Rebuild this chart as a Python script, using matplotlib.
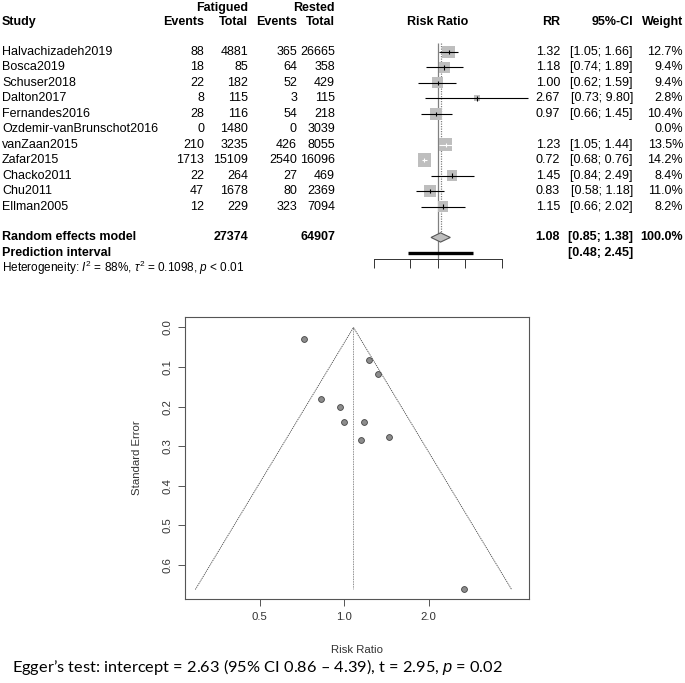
import numpy as np
import matplotlib
matplotlib.use("Agg")
import matplotlib.pyplot as plt
from matplotlib.patches import Polygon
from matplotlib import transforms

plt.rcParams['font.family'] = ['Liberation Sans', 'DejaVu Sans']
plt.rcParams['mathtext.fontset'] = 'custom'
plt.rcParams['mathtext.rm'] = 'Liberation Sans'
plt.rcParams['mathtext.it'] = 'Liberation Sans:italic'

# ---- data ----
studies = ['Halvachizadeh2019', 'Bosca2019', 'Schuser2018', 'Dalton2017',
           'Fernandes2016', 'Ozdemir-vanBrunschot2016', 'vanZaan2015',
           'Zafar2015', 'Chacko2011', 'Chu2011', 'Ellman2005']
fat_events = [88, 18, 22, 8, 28, 0, 210, 1713, 22, 47, 12]
fat_total = [4881, 85, 182, 115, 116, 1480, 3235, 15109, 264, 1678, 229]
rest_events = [365, 64, 52, 3, 54, 0, 426, 2540, 27, 80, 323]
rest_total = [26665, 358, 429, 115, 218, 3039, 8055, 16096, 469, 2369, 7094]
rr = [1.32, 1.18, 1.00, 2.67, 0.97, np.nan, 1.23, 0.72, 1.45, 0.83, 1.15]
ci_lo = [1.05, 0.74, 0.62, 0.73, 0.66, np.nan, 1.05, 0.68, 0.84, 0.58, 0.66]
ci_hi = [1.66, 1.89, 1.59, 9.80, 1.45, np.nan, 1.44, 0.76, 2.49, 1.18, 2.02]
weight = [12.7, 9.4, 9.4, 2.8, 10.4, 0.0, 13.5, 14.2, 8.4, 11.0, 8.2]
# standard errors
se = [0.117, 0.239, 0.240, 0.662, 0.201, np.nan, 0.081, 0.028, 0.277, 0.181, 0.285]

re_est, re_lo, re_hi = 1.08, 0.85, 1.38
pi_lo, pi_hi = 0.48, 2.45
fat_sum, rest_sum = 27374, 64907
forest_ticks = [0.2, 0.5, 1, 2, 5]
funnel_center = 1.08

W, H = 685, 683
fig = plt.figure(figsize=(W / 100, H / 100), dpi=100)
fig.patch.set_facecolor('white')

def fx(p):
    return p / W

# ---- forest plot ----
ax = fig.add_axes([fx(373.5), (H - 275) / H, 128 / W, 275 / H])
ax.set_xscale('log')
ax.set_xlim(0.2, 5)
ax.set_ylim(14.43, -3.366)
ax.patch.set_alpha(0)
for s in ['top', 'left', 'right']:
    ax.spines[s].set_visible(False)
ax.spines['bottom'].set_position(('data', 13.4))
ax.spines['bottom'].set_bounds(0.2, 5)
ax.spines['bottom'].set_linewidth(0.7)
ax.spines['bottom'].set_color('#333333')
ax.set_xticks(forest_ticks)
ax.set_xticklabels([''] * len(forest_ticks))
ax.xaxis.set_minor_locator(matplotlib.ticker.NullLocator())
ax.tick_params(axis='x', direction='out', length=6.5, width=0.7, color='#333333')
ax.set_yticks([])

rows = np.arange(len(studies))
ax.vlines(1, -0.58, 13.4, color='#808080', lw=0.9, zorder=1, clip_on=False)
ax.vlines(re_est, -0.58, 11.7, color='#808080', lw=0.9, linestyles=(0, (1, 1)), zorder=1, clip_on=False)

trans = ax.transData
for i in rows:
    if np.isnan(rr[i]):
        continue
    side = 3.6 * np.sqrt(weight[i])
    ax.scatter([rr[i]], [i], marker='s', s=(side * 0.72) ** 2, color='#BEBEBE',
               edgecolors='none', zorder=2, clip_on=False)
    x0 = trans.transform((ci_lo[i], i))[0]
    x1 = trans.transform((ci_hi[i], i))[0]
    xc = trans.transform((rr[i], i))[0]
    inside = (xc - x0) < side / 2 and (x1 - xc) < side / 2
    col = 'white' if inside else 'black'
    ax.hlines(i, ci_lo[i], ci_hi[i], color=col, lw=0.8, zorder=3, clip_on=False)
    ax.vlines(rr[i], i - 0.14, i + 0.14, color=col, lw=0.8, zorder=3, clip_on=False)

dia = Polygon([(re_lo, 12), (re_est, 11.7), (re_hi, 12), (re_est, 12.3)], closed=True,
              facecolor='#BEBEBE', edgecolor='#555555', lw=0.8, zorder=3, clip_on=False)
ax.add_patch(dia)
ax.hlines(13, pi_lo, pi_hi, color='black', lw=2.4, zorder=3, clip_on=False)

tt = transforms.blended_transform_factory(fig.transFigure, ax.transData)
fs = 9

def put(x, y, s, ha='right', bold=False, size=fs):
    fig.text(fx(x), y, s, transform=tt, ha=ha, va='center', fontsize=size,
             fontweight='bold' if bold else 'normal', color='black')

put(248, -2.85, 'Fatigued', bold=True)
put(335, -2.85, 'Rested', bold=True)
put(2, -1.94, 'Study', ha='left', bold=True)
put(204, -1.94, 'Events', bold=True)
put(248, -1.94, 'Total', bold=True)
put(297, -1.94, 'Events', bold=True)
put(335, -1.94, 'Total', bold=True)
put(437.5, -1.94, 'Risk Ratio', ha='center', bold=True)
put(560, -1.94, 'RR', bold=True)
put(633, -1.94, '95%-CI', bold=True)
put(683, -1.94, 'Weight', bold=True)

for i in rows:
    put(2, i, studies[i], ha='left')
    put(204, i, str(fat_events[i]))
    put(248, i, str(fat_total[i]))
    put(297, i, str(rest_events[i]))
    put(335, i, str(rest_total[i]))
    if not np.isnan(rr[i]):
        put(560, i, f'{rr[i]:.2f}')
        put(633, i, f'[{ci_lo[i]:.2f}; {ci_hi[i]:.2f}]')
    put(683, i, f'{weight[i]:.1f}%')

put(2, 12, 'Random effects model', ha='left', bold=True)
put(248, 12, str(fat_sum), bold=True)
put(335, 12, str(rest_sum), bold=True)
put(560, 12, f'{re_est:.2f}', bold=True)
put(633, 12, f'[{re_lo:.2f}; {re_hi:.2f}]', bold=True)
put(683, 12, '100.0%', bold=True)
put(2, 13, 'Prediction interval', ha='left', bold=True)
put(633, 13, f'[{pi_lo:.2f}; {pi_hi:.2f}]', bold=True)
put(2, 14, r'Heterogeneity: $I^2$ = 88%, $\tau^2$ = 0.1098, $p$ < 0.01', ha='left', size=8.5)

# ---- funnel plot ----
axf = fig.add_axes([fx(185), (H - 599) / H, 344 / W, 282 / H])
axf.set_xscale('log')
axf.set_xlim(0.271, 4.56)
axf.set_ylim(0.686, -0.0264)
se_arr = np.array(se)
rr_arr = np.array(rr)
ok = ~np.isnan(se_arr)
se_max = np.nanmax(se_arr)
ax_c = np.log(funnel_center)
axf.plot([np.exp(ax_c - 1.96 * se_max), funnel_center, np.exp(ax_c + 1.96 * se_max)],
         [se_max, 0, se_max], color='#444444', lw=0.6, ls=(0, (1.5, 1)))
axf.vlines(funnel_center, 0, se_max, color='#666666', lw=0.6, linestyles=(0, (1, 1)))
axf.plot(rr_arr[ok], se_arr[ok], 'o', ms=4.2, mfc='#8C8C8C', mec='#444444', mew=0.6)

axf.set_xticks([0.5, 1, 2])
axf.set_xticklabels(['0.5', '1.0', '2.0'])
axf.xaxis.set_minor_locator(matplotlib.ticker.NullLocator())
yt = [0.0, 0.1, 0.2, 0.3, 0.4, 0.5, 0.6]
axf.set_yticks(yt)
axf.set_yticklabels([f'{v:.1f}' for v in yt], rotation=90, va='center')
axf.tick_params(length=5, width=0.7, color='#555555', labelsize=8.2, labelcolor='#333333', pad=4)
for s in axf.spines.values():
    s.set_color('#555555')
    s.set_linewidth(0.8)
axf.set_xlabel('Risk Ratio', fontsize=8.2, color='#333333')
axf.set_ylabel('Standard Error', fontsize=8.2, color='#333333')
axf.xaxis.set_label_coords(0.5, -0.163)
axf.xaxis.label.set_va('top')
axf.yaxis.set_label_coords(-0.125, 0.5)

# ---- Egger caption ----
fig.text(fx(12), (H - 667) / H,
         'Egger\u2019s test: intercept = 2.63 (95% CI 0.86 \u2013 4.39), t = 2.95, $p$ = 0.02',
         family=['Lato', 'DejaVu Sans'], fontsize=11.8, ha='left', va='center')

fig.savefig('out.png', dpi=100, facecolor='white')
